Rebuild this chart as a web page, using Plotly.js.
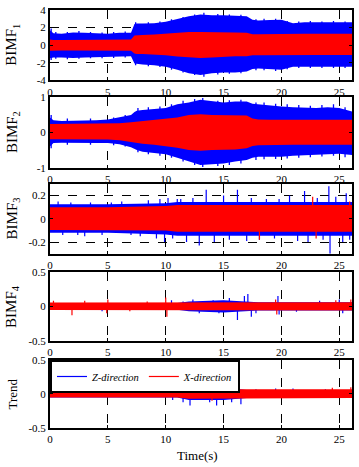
<!DOCTYPE html>
<html><head><meta charset="utf-8">
<script src="https://cdn.plot.ly/plotly-3.0.1.min.js"></script>
<style>body{margin:0;padding:0;background:#fff}#chart{width:359px;height:467px}</style>
</head><body><div id="chart"></div>
<script>
// ---------- data ----------
const tA = [0,0.3,1,2,3,4,5,6,7,7.3,7.5,8,9,10,11,12,13,14,15,16,17,17.5,18,19,20,21,22,23,24,25,26.1];
// BIMF1 envelopes
const p1BlueUp = [1.7,1.35,1.3,1.45,1.4,1.35,1.3,1.4,1.4,2.4,2.45,2.45,2.5,2.65,3.0,3.3,3.5,3.4,3.4,3.35,3.3,2.9,2.8,2.85,2.9,2.5,2.6,2.6,2.6,2.6,2.6];
const p1BlueLo = [-1.5,-1.4,-1.4,-1.45,-1.4,-1.35,-1.3,-1.3,-1.25,-2.1,-2.15,-2.2,-2.3,-2.45,-2.8,-3.2,-3.4,-3.2,-3.1,-3.1,-3.0,-2.7,-2.65,-2.75,-2.8,-2.45,-2.45,-2.45,-2.45,-2.45,-2.45];
const p1RedUp = [0.65,0.6,0.6,0.62,0.62,0.62,0.62,0.64,0.65,1.1,1.1,1.15,1.2,1.3,1.45,1.5,1.5,1.5,1.45,1.45,1.4,1.25,1.25,1.28,1.3,1.28,1.3,1.3,1.3,1.3,1.3];
const p1RedLo = [-0.65,-0.62,-0.62,-0.62,-0.62,-0.62,-0.62,-0.64,-0.65,-0.95,-1.0,-1.0,-1.05,-1.15,-1.3,-1.4,-1.45,-1.4,-1.3,-1.25,-1.25,-1.15,-1.15,-1.13,-1.13,-1.13,-1.13,-1.13,-1.13,-1.13,-1.13];
// BIMF1 edge peaks
const p1PeakT  = [0.1,0.5,1.5,2.5,3.5,4.5,5.5,6.5,7.4,8.5,9.5,10.5,11.5,12.5,13.3,14.5,15.5,16.5,17.8,18.5,19.5,20.5,21.5,22.5,23.5,24.5,25.5];
const p1PeakUp = [1.9,1.5,1.5,1.6,1.5,1.45,1.5,1.55,2.6,2.6,2.7,2.95,3.2,3.5,3.7,3.55,3.5,3.45,2.95,3.0,3.0,2.75,2.7,2.75,2.7,2.75,2.7];
const p1PeakLo = [-1.7,-1.55,-1.6,-1.55,-1.5,-1.5,-1.45,-1.4,-2.3,-2.4,-2.5,-2.8,-3.1,-3.4,-3.6,-3.35,-3.25,-3.2,-2.85,-2.85,-2.95,-2.75,-2.6,-2.6,-2.6,-2.6,-2.6];
// BIMF2 envelopes
const p2BlueUp = [0.43,0.35,0.33,0.33,0.33,0.35,0.37,0.43,0.5,0.58,0.62,0.64,0.66,0.7,0.8,0.85,0.93,0.9,0.85,0.88,0.88,0.82,0.8,0.78,0.74,0.72,0.7,0.7,0.72,0.7,0.6];
const p2BlueLo = [-0.4,-0.3,-0.29,-0.3,-0.29,-0.3,-0.3,-0.33,-0.42,-0.48,-0.5,-0.55,-0.58,-0.62,-0.72,-0.82,-0.92,-0.9,-0.88,-0.82,-0.78,-0.72,-0.69,-0.69,-0.69,-0.66,-0.64,-0.64,-0.6,-0.6,-0.64];
const p2RedUp = [0.24,0.24,0.24,0.24,0.24,0.24,0.24,0.26,0.29,0.3,0.31,0.32,0.35,0.38,0.43,0.5,0.52,0.5,0.5,0.5,0.48,0.4,0.37,0.36,0.36,0.36,0.36,0.36,0.36,0.36,0.36];
const p2RedLo = [-0.19,-0.19,-0.19,-0.19,-0.19,-0.2,-0.2,-0.22,-0.27,-0.28,-0.3,-0.32,-0.35,-0.38,-0.43,-0.5,-0.52,-0.5,-0.5,-0.48,-0.45,-0.38,-0.36,-0.35,-0.35,-0.35,-0.35,-0.35,-0.35,-0.35,-0.35];
// BIMF2 edge peaks
const p2PeakT  = [0.1,1.5,3.5,5.5,6.5,7.6,8.5,9.5,10.5,11.5,12.5,13.2,14.5,15.5,16.5,17.8,18.5,19.5,20.5,21.5,22.5,23.5,24.5,25.5];
const p2PeakUp = [0.5,0.4,0.4,0.43,0.5,0.7,0.72,0.74,0.8,0.9,0.95,0.98,0.9,0.92,0.93,0.85,0.85,0.82,0.8,0.78,0.76,0.78,0.8,0.72];
const p2PeakLo = [-0.45,-0.35,-0.35,-0.36,-0.4,-0.56,-0.62,-0.66,-0.72,-0.82,-0.92,-0.98,-0.95,-0.92,-0.88,-0.78,-0.76,-0.75,-0.74,-0.72,-0.7,-0.68,-0.66,-0.7];
// BIMF3
const t3 = [0,5,10,11,26.1];
const p3BlueUp = [0.125,0.125,0.135,0.145,0.145];
const p3BlueLo = [-0.12,-0.12,-0.135,-0.145,-0.145];
const p3RedUp = [0.1,0.1,0.11,0.12,0.12];
const p3RedLo = [-0.095,-0.095,-0.1,-0.11,-0.11];
const p3BlueSpikeT = [0.7,1.1,1.8,2.4,3.0,3.5,4.5,5.3,6.2,7.0,7.8,8.5,9.2,9.5,9.9,10.2,10.6,11.0,11.3,11.8,12.35,12.9,13.5,14.2,15.0,15.5,16.2,17.0,17.4,18.1,18.7,19.4,19.8,20.7,21.4,22.0,22.3,23.1,23.6,24.1,24.2,24.7,25.3,25.6,25.9];
const p3BlueSpikeV = [0.15,-0.14,0.14,-0.14,-0.15,0.14,-0.14,0.14,0.15,-0.14,-0.15,0.16,-0.17,0.17,-0.2,0.18,-0.17,0.17,0.17,-0.2,0.18,-0.23,0.25,-0.2,0.2,-0.18,0.25,-0.19,0.18,-0.18,0.17,-0.17,0.17,0.2,-0.19,0.24,-0.2,0.18,-0.18,0.28,-0.3,0.19,-0.2,0.22,-0.18];
const p3RedSpikeT = [18.1,22.7,23.0,25.9];
const p3RedSpikeV = [-0.18,0.19,-0.17,0.15];
// BIMF4
const t4 = [0,11,12,15,18,26.1];
const p4BlueUp = [0.05,0.05,0.07,0.09,0.06,0.06];
const p4BlueLo = [-0.05,-0.05,-0.07,-0.09,-0.06,-0.06];
const p4RedUp = [0.055,0.055,0.06,0.06,0.06,0.06];
const p4RedLo = [-0.055,-0.055,-0.06,-0.06,-0.06,-0.06];
const p4BlueSpikeT = [4.5,10.5,11.5,12.35,12.9,14.1,14.6,15.5,16.2,16.8,17.1,17.4,17.8,19.7,19.8,21.3,23.3,25.0,25.3];
const p4BlueSpikeV = [-0.07,0.09,0.07,0.1,-0.1,0.09,-0.1,0.12,-0.2,0.15,0.18,-0.15,-0.1,0.15,-0.12,-0.08,0.08,0.1,-0.1];
const p4RedSpikeT = [0.3,1.9,3.0,4.9,5.0,6.9,8.4,10.0,10.1,19.5,19.6,24.7,26.0];
const p4RedSpikeV = [0.08,-0.13,0.08,-0.1,0.1,-0.07,0.07,0.13,-0.15,0.1,-0.12,0.09,0.1];
// Trend
const t5 = [0,11,12,15,17,26.1];
const p5BlueUp = [0.05,0.05,0.09,0.09,0.06,0.06];
const p5BlueLo = [-0.05,-0.05,-0.09,-0.09,-0.06,-0.06];
const p5RedUp = [0.05,0.05,0.07,0.07,0.06,0.07];
const p5RedLo = [-0.05,-0.05,-0.07,-0.07,-0.06,-0.06];
const p5BlueSpikeT = [3.0,9.0,10.2,10.6,11.0,11.5,12.1,12.6,13.2,13.8,14.4,15.0,15.7,16.2,16.5,17.8,19.5,21.0,22.7,23.8];
const p5BlueSpikeV = [0.07,0.07,0.12,-0.09,0.1,-0.12,-0.17,0.13,0.2,-0.12,-0.17,0.1,-0.12,0.13,-0.15,0.07,0.08,0.08,-0.06,0.07];
const p5RedSpikeT = [2.0,13.0,14.0,24.4,26.0];
const p5RedSpikeV = [0.07,0.1,-0.1,0.09,0.1];

const xTicks = [0,5,10,15,20,25];
const yTitles = ['BIMF<sub>1</sub>','BIMF<sub>2</sub>','BIMF<sub>3</sub>','BIMF<sub>4</sub>','Trend'];
const yRanges = [[-4,4],[-1,1],[-0.3,0.3],[-0.5,0.5],[-0.5,0.5]];
const yTickVals = [[-4,-2,0,2,4],[-1,0,1],[-0.2,0,0.2],[-0.5,0,0.5],[-0.5,0,0.5]];
const yTickText = [['-4','-2','0','2','4'],['-1','0','1'],['-0.2','0','0.2'],['-0.5','0','0.5'],['-0.5','0','0.5']];
const legendNames = ['<i>Z-direction</i>','<i>X-direction</i>'];

// ---------- build ----------
const BLUE = '#0000ff', RED = '#ff0000';
const traces = [];
function ax(i){ return i===1?'':String(i); }
function band(i, t, up, lo, color){
  traces.push({type:'scatter',mode:'lines',x:t,y:up,xaxis:'x'+ax(i),yaxis:'y'+ax(i),line:{width:0,color:color},showlegend:false,hoverinfo:'skip'});
  traces.push({type:'scatter',mode:'lines',x:t,y:lo,xaxis:'x'+ax(i),yaxis:'y'+ax(i),line:{width:0,color:color},fill:'tonexty',fillcolor:color,showlegend:false,hoverinfo:'skip'});
}
function ranges(i, t, up, lo, color){
  const xs=[], ys=[];
  t.forEach((tt,k)=>{ xs.push(tt,tt,null); ys.push(lo[k],up[k],null); });
  traces.push({type:'scatter',mode:'lines',x:xs,y:ys,xaxis:'x'+ax(i),yaxis:'y'+ax(i),line:{width:1.3,color:color},showlegend:false,hoverinfo:'skip'});
}
function spikes(i, t, v, color, name){
  const xs=[], ys=[];
  t.forEach((tt,k)=>{ xs.push(tt,tt,null); ys.push(0,v[k],null); });
  traces.push({type:'scatter',mode:'lines',x:xs,y:ys,xaxis:'x'+ax(i),yaxis:'y'+ax(i),line:{width:1.2,color:color},
    showlegend:!!name,name:name||'',hoverinfo:'skip',connectgaps:false});
}
band(1,tA,p1BlueUp,p1BlueLo,BLUE); ranges(1,p1PeakT,p1PeakUp,p1PeakLo,BLUE); band(1,tA,p1RedUp,p1RedLo,RED);
band(2,tA,p2BlueUp,p2BlueLo,BLUE); ranges(2,p2PeakT,p2PeakUp,p2PeakLo,BLUE); band(2,tA,p2RedUp,p2RedLo,RED);
band(3,t3,p3BlueUp,p3BlueLo,BLUE); spikes(3,p3BlueSpikeT,p3BlueSpikeV,BLUE);
band(3,t3,p3RedUp,p3RedLo,RED); spikes(3,p3RedSpikeT,p3RedSpikeV,RED);
band(4,t4,p4BlueUp,p4BlueLo,BLUE); spikes(4,p4BlueSpikeT,p4BlueSpikeV,BLUE);
band(4,t4,p4RedUp,p4RedLo,RED); spikes(4,p4RedSpikeT,p4RedSpikeV,RED);
band(5,t5,p5BlueUp,p5BlueLo,BLUE); spikes(5,p5BlueSpikeT,p5BlueSpikeV,BLUE,legendNames[0]);
band(5,t5,p5RedUp,p5RedLo,RED); spikes(5,p5RedSpikeT,p5RedSpikeV,RED,legendNames[1]);

const FONT = 'Liberation Serif, Times New Roman, serif';
const domains = [[0.8318,1.0],[0.6227,0.7911],[0.417,0.5837],[0.2089,0.3732],[0.0,0.1627]];
const layout = {
  width:359, height:467, margin:{l:50,r:7,t:10,b:39},
  paper_bgcolor:'#fff', plot_bgcolor:'#fff', showlegend:true,
  font:{family:FONT,size:11,color:'#000'},
  legend:{orientation:'h',x:0,xanchor:'left',y:0.1627,yanchor:'top',bgcolor:'#fff',bordercolor:'#000',borderwidth:2,
    font:{family:FONT,size:10.5,color:'#000'},traceorder:'normal',itemwidth:30},
  annotations:[]
};
for(let i=1;i<=5;i++){
  const s = ax(i);
  const common = {showgrid:true,gridcolor:'#000',griddash:'dash',gridwidth:1,zeroline:false,
    showline:true,mirror:'ticks',linecolor:'#000',linewidth:2,ticks:'inside',ticklen:3,tickcolor:'#000',
    tickfont:{family:FONT,size:11,color:'#000'}};
  layout['xaxis'+s] = Object.assign({domain:[0,1],anchor:'y'+s,range:[0,26.1],tickvals:xTicks,ticktext:xTicks.map(String)},common);
  layout['yaxis'+s] = Object.assign({domain:domains[i-1],anchor:'x'+s,range:yRanges[i-1],tickvals:yTickVals[i-1],ticktext:yTickText[i-1]},common);
  const d = domains[i-1];
  layout.annotations.push({xref:'paper',yref:'paper',x:-0.124,y:(d[0]+d[1])/2,text:yTitles[i-1],textangle:-90,
    showarrow:false,xanchor:'center',yanchor:'middle',font:{family:FONT,size:i===5?13:15,color:'#000'}});
}
layout.annotations.push({xref:'paper',yref:'paper',x:0.487,y:-0.0646,text:'Time(s)',showarrow:false,
  xanchor:'center',yanchor:'middle',font:{family:FONT,size:13,color:'#000'}});
Plotly.newPlot('chart',traces,layout,{staticPlot:true,displayModeBar:false});
</script></body></html>
